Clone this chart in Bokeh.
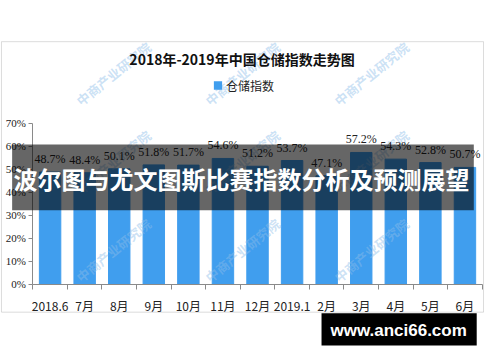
import math
from bokeh.plotting import figure
from bokeh.models import (ColumnDataSource, Range1d, FixedTicker, PrintfTickFormatter,
                          LabelSet, Label, BoxAnnotation)
from bokeh.embed import file_html
from bokeh.resources import INLINE

# ---------------- data ----------------
months = ["2018.6", "7月", "8月", "9月", "10月", "11月", "12月",
          "2019.1", "2月", "3月", "4月", "5月", "6月"]
index_values = [48.7, 48.4, 50.1, 51.8, 51.7, 54.6, 51.2, 53.7, 47.1, 57.2, 54.3, 52.8, 50.7]
y_ticks = [0, 10, 20, 30, 40, 50, 60, 70]

title_text = "2018年-2019年中国仓储指数走势图"
legend_text = "仓储指数"
banner_text = "波尔图与尤文图斯比赛指数分析及预测展望"
site_text = "www.anci66.com"
watermark_text = "中商产业研究院"

BLUE = "#409EEE"
GRAY = "#8a8a8a"
TXT = "#222222"
CJK = "Noto Sans CJK SC"

# ---------------- layout ----------------
W, H = 484, 346
SX, SY = 483 / 498, 345 / 352   # fit the 500x362 design into the canvas

def fx(x):
    return x * SX

def fy(y):
    return y * SY

AX_L, AX_R = fx(33.3), fx(496.7)     # x extent of the category axis
AX_TOP, AX_BOT = fy(125), fy(289.3)  # pixel rows of 70% and 0%
N = len(months)
Y_MAX = 70
KX = (AX_R - AX_L) / N
KY = (AX_BOT - AX_TOP) / Y_MAX
X_START = -AX_L / KX
X_END = N + (W - AX_R) / KX
Y_TOP = Y_MAX + AX_TOP / KY
Y_BOTTOM = -(H - AX_BOT) / KY

def dx(x):
    return X_START + fx(x) / KX

def dy(y):
    return Y_TOP - fy(y) / KY

p = figure(width=W, height=H, output_backend="svg", toolbar_location=None,
           x_range=Range1d(X_START, X_END), y_range=Range1d(Y_BOTTOM, Y_TOP),
           min_border=0, min_border_left=0, min_border_right=0,
           min_border_top=0, min_border_bottom=0)
p.background_fill_color = "white"
p.border_fill_color = "white"
p.outline_line_color = None
p.xgrid.visible = False
p.ygrid.visible = False

xs = [i + 0.5 for i in range(N)]
src = ColumnDataSource(dict(x=xs, v=index_values, lab=[f"{v:.1f}%" for v in index_values]))
p.vbar(x="x", top="v", bottom=0, width=0.62, color=BLUE, source=src)

# x axis: labels at centres, ticks at boundaries
xa = p.xaxis[0]
xa.fixed_location = 0
xa.bounds = (0, N)
xa.ticker = FixedTicker(ticks=xs, minor_ticks=list(range(N + 1)))
xa.major_label_overrides = {x: m for x, m in zip(xs, months)}
xa.major_tick_in = 0
xa.major_tick_out = 0
xa.minor_tick_in = 0
xa.minor_tick_out = 5
xa.axis_line_color = GRAY
xa.minor_tick_line_color = GRAY
xa.major_label_standoff = 8
xa.major_label_text_font = CJK
xa.major_label_text_font_size = "12px"
xa.major_label_text_color = TXT

ya = p.yaxis[0]
ya.fixed_location = 0
ya.bounds = (0, Y_MAX)
ya.ticker = FixedTicker(ticks=y_ticks, minor_ticks=[])
ya.formatter = PrintfTickFormatter(format="%d%%")
ya.major_tick_in = 0
ya.major_tick_out = 4
ya.minor_tick_out = 0
ya.axis_line_color = GRAY
ya.major_tick_line_color = GRAY
ya.major_label_standoff = 3
ya.major_label_text_font = "Liberation Serif"
ya.major_label_text_font_size = "11px"
ya.major_label_text_color = TXT

def box(l, r, t, b, **kw):
    return BoxAnnotation(left=dx(l), right=dx(r), top=dy(t), bottom=dy(b), **kw)

def lab(x, y, text, **kw):
    kw.setdefault("text_baseline", "middle")
    return Label(x=dx(x), y=dy(y), text=text, **kw)

# faint watermarks
WM_ANGLE = math.radians(39)
for cx in (72, 205, 338):
    for cy in (110, 200, 290):
        p.add_layout(lab(cx + 8, cy - 6, watermark_text, text_align="left",
                         angle=WM_ANGLE, text_font=CJK, text_font_size="13px",
                         text_font_style="bold", text_color="#8dbde9", text_alpha=0.45))

# value labels
p.add_layout(LabelSet(x="x", y="v", text="lab", source=src, y_offset=13,
                      text_align="center", text_baseline="middle",
                      text_font="Liberation Serif", text_font_size="12px",
                      text_color=TXT))

# chart frame
p.add_layout(box(1, 498, 42, 318, fill_alpha=0, line_color=GRAY, line_width=1))
# title
p.add_layout(lab(249, 59.5, title_text, text_align="center", text_font=CJK,
                 text_font_size="14px", text_font_style="bold", text_color="#111111"))
# legend
p.add_layout(box(220, 228.5, 82.5, 91, fill_color=BLUE, fill_alpha=1, line_color=None))
p.add_layout(lab(232.5, 86.5, legend_text, text_align="left", text_font=CJK,
                 text_font_size="12px", text_color=TXT))
# overlay banner
p.add_layout(box(12, 488, 147, 214, fill_color="black", fill_alpha=0.6, line_color=None))
p.add_layout(lab(248.5, 181.5, banner_text, text_align="center", text_font=CJK,
                 text_font_size="24px", text_font_style="bold", text_color="white"))
# site box
p.add_layout(box(331, 491, 319, 352, fill_color="black", fill_alpha=1, line_color=None))
p.add_layout(lab(410.5, 336.5, site_text, text_align="center", text_font="Liberation Sans",
                 text_font_size="17px", text_font_style="bold", text_color="white"))

open("out.html", "w").write(file_html(p, INLINE))
